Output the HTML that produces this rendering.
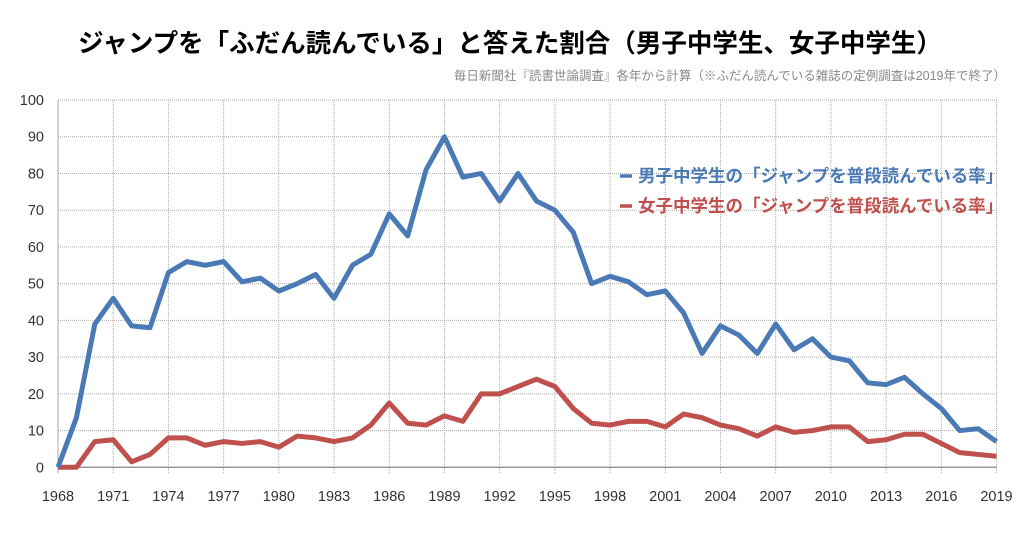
<!DOCTYPE html>
<html><head><meta charset="utf-8"><style>
body{margin:0;background:#fff;width:1024px;height:533px;overflow:hidden;font-family:"Liberation Sans","Noto Sans CJK JP",sans-serif;}
</style></head><body>
<svg id="chart" width="1024" height="533" xmlns="http://www.w3.org/2000/svg">
<text x="510" y="52" text-anchor="middle" font-size="25.5" font-weight="bold" fill="#000" font-family="Liberation Sans, Noto Sans CJK JP, sans-serif">ジャンプを「ふだん読んでいる」と答えた割合（男子中学生、女子中学生）</text>
<text x="1006" y="80" text-anchor="end" font-size="12.5" fill="#888" font-family="Liberation Sans, Noto Sans CJK JP, sans-serif">毎日新聞社『読書世論調査』各年から計算（※ふだん読んでいる雑誌の定例調査は2019年で終了）</text>
<g id="grid"></g><g id="axes"></g><g id="lines"></g>
<g font-family="Liberation Sans, Noto Sans CJK JP, sans-serif" font-size="17.5" font-weight="bold">
<line x1="620" x2="632" y1="176" y2="176" stroke="#4a7ab5" stroke-width="3.5"/>
<text x="638" y="182" fill="#4a7ab5">男子中学生の「ジャンプを普段読んでいる率」</text>
<line x1="620" x2="632" y1="206" y2="206" stroke="#c0504d" stroke-width="3.5"/>
<text x="638" y="212" fill="#c0504d">女子中学生の「ジャンプを普段読んでいる率」</text>
</g>
</svg>
<script>
const years=[1968,1969,1970,1971,1972,1973,1974,1975,1976,1977,1978,1979,1980,1981,1982,1983,1984,1985,1986,1987,1988,1989,1990,1991,1992,1993,1994,1995,1996,1997,1998,1999,2000,2001,2002,2003,2004,2005,2006,2007,2008,2009,2010,2011,2012,2013,2014,2015,2016,2017,2018,2019];
const boys=[0,13.5,39,46,38.5,38,53,56,55,56,50.5,51.5,48,50,52.5,46,55,58,69,63,81,90,79,80,72.5,80,72.5,70,64,50,52,50.5,47,48,42,31,38.5,36,31,39,32,35,30,29,23,22.5,24.5,20,16,10,10.5,7];
const girls=[0,0,7,7.5,1.5,3.5,8,8,6,7,6.5,7,5.5,8.5,8,7,8,11.5,17.5,12,11.5,14,12.5,20,20,22,24,22,16,12,11.5,12.5,12.5,11,14.5,13.5,11.5,10.5,8.5,11,9.5,10,11,11,7,7.5,9,9,6.5,4,3.5,3];
const yTicks=[0,10,20,30,40,50,60,70,80,90,100];
const xTicks=[1968,1971,1974,1977,1980,1983,1986,1989,1992,1995,1998,2001,2004,2007,2010,2013,2016,2019];
const X=y=>58+(y-1968)*(996.5-58)/51;
const Y=v=>467.3-v*3.673;
const NS="http://www.w3.org/2000/svg";
function mk(tag,attrs,parent){const e=document.createElementNS(NS,tag);for(const k in attrs)e.setAttribute(k,attrs[k]);document.getElementById(parent).appendChild(e);return e;}
yTicks.forEach(t=>{
 const l=mk('line',{x1:58,x2:996.5,y1:Y(t),y2:Y(t),stroke:t===0?'#999':'#aaa','stroke-width':t===0?1.5:1,'stroke-dasharray':t===0?'':'1,1'},'grid');
 
 
 const tx=mk('text',{x:44,y:Y(t)+5,'text-anchor':'end','font-size':14.5,fill:'#333','font-family':'Liberation Sans, sans-serif'},'axes');
 tx.textContent=t;
 
 
});
xTicks.forEach(t=>{
 const l=mk('line',{x1:X(t),x2:X(t),y1:Y(100),y2:Y(0)+6,stroke:'#aaa','stroke-width':1,'stroke-dasharray':t===1968?'':'1,1'},'grid');
 
 
 const tx=mk('text',{x:X(t),y:501,'text-anchor':'middle','font-size':14.5,fill:'#333','font-family':'Liberation Sans, sans-serif'},'axes');
 tx.textContent=t;
 
 
});
function line(data,color,name){
 const p=mk('polyline',{points:data.map((v,i)=>X(years[i])+','+Y(v)).join(' '),fill:'none',stroke:color,'stroke-width':5,'stroke-linejoin':'round'},'lines');
 
 
}
line(girls,'#c0504d','girls-line');
line(boys,'#4a7ab5','boys-line');
</script>
</body></html>
